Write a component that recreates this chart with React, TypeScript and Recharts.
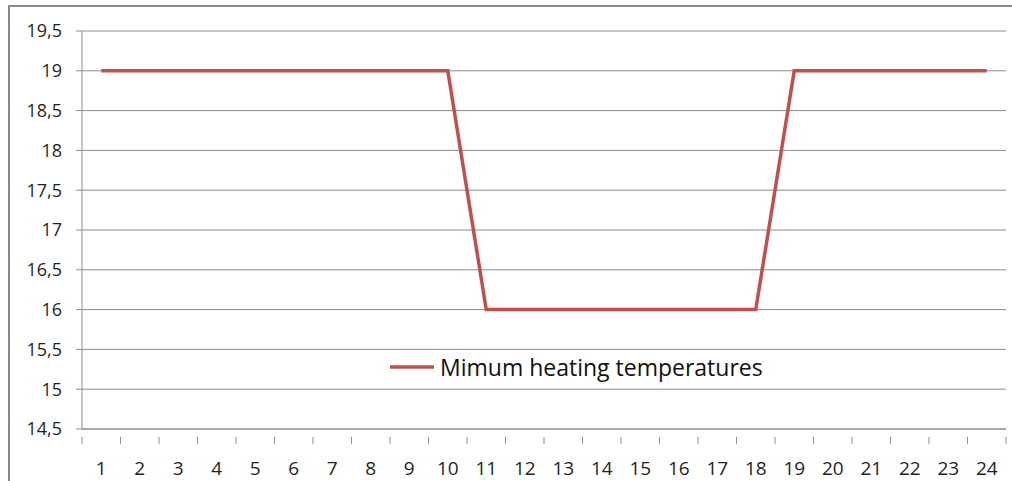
import React from "react";
import {
  LineChart, Line, XAxis, YAxis, CartesianGrid, Legend,
} from "recharts";

const hours = [
  "1", "2", "3", "4", "5", "6", "7", "8", "9", "10", "11", "12",
  "13", "14", "15", "16", "17", "18", "19", "20", "21", "22", "23", "24",
];
const minTemps = [
  19, 19, 19, 19, 19, 19, 19, 19, 19, 19, 16, 16,
  16, 16, 16, 16, 16, 16, 19, 19, 19, 19, 19, 19,
];
const yTicks = [14.5, 15, 15.5, 16, 16.5, 17, 17.5, 18, 18.5, 19, 19.5];

const W = 1012;
const H = 481;
const PLOT_LEFT = 82;
const PLOT_RIGHT = 1006;
const GRID = "#8c8c8c";
const TEXT = "#1f1f1f";
const FONT = "'Open Sans', sans-serif";

const data = hours.map((h, i) => ({ hour: h, temp: minTemps[i] }));
const halfBand = (PLOT_RIGHT - PLOT_LEFT) / hours.length / 2;

function HourTick(props: any) {
  const { x, y, payload, index } = props;
  const last = index === hours.length - 1;
  return (
    <g>
      <line x1={x - halfBand} x2={x - halfBand} y1={y} y2={y + 7} stroke={GRID} />
      {last && <line x1={x + halfBand} x2={x + halfBand} y1={y} y2={y + 7} stroke={GRID} />}
      <text x={x} y={y + 38} textAnchor="middle" fill={TEXT} fontSize={19} fontFamily={FONT}>
        {payload.value}
      </text>
    </g>
  );
}

function LegendBox() {
  return (
    <div style={{ position: "absolute", left: 390, top: 351, display: "flex", alignItems: "center" }}>
      <svg width={44} height={6} style={{ marginRight: 6 }}>
        <line x1={0} x2={44} y1={3} y2={3} stroke="#C0504D" strokeWidth={3.5} />
      </svg>
      <span style={{ fontFamily: FONT, fontSize: 23, color: "#111", whiteSpace: "nowrap" }}>
        Mimum heating temperatures
      </span>
    </div>
  );
}

export default function App() {
  return (
    <div style={{ position: "absolute", left: 0, top: 0, width: W, height: H, overflow: "hidden", background: "#fff" }}>
      <div
        style={{
          position: "absolute", left: 8, top: 5, width: W + 20, height: H + 20,
          borderLeft: "2px solid #898989", borderTop: "2px solid #898989",
        }}
      />
      <div style={{ position: "absolute", left: 0, top: 0 }}>
        <LineChart width={W} height={H} data={data} margin={{ top: 31, right: W - PLOT_RIGHT, bottom: 12, left: 0 }}>
          <CartesianGrid vertical={false} stroke={GRID} />
          <XAxis
            dataKey="hour"
            height={40}
            padding={{ left: halfBand, right: halfBand }}
            axisLine={{ stroke: GRID }}
            tickLine={false}
            tick={<HourTick />}
            interval={0}
          />
          <YAxis
            width={PLOT_LEFT}
            domain={[14.5, 19.5]}
            ticks={yTicks}
            interval={0}
            axisLine={{ stroke: GRID }}
            tickLine={{ stroke: GRID }}
            tickSize={6}
            tickMargin={14}
            tick={{ fill: TEXT, fontSize: 18, fontFamily: FONT }}
            tickFormatter={(v: number) => String(v).replace(".", ",")}
          />
          <Legend content={() => null} />
          <Line
            type="linear"
            dataKey="temp"
            name="Mimum heating temperatures"
            stroke="#C0504D"
            strokeWidth={3.5}
            dot={false}
            isAnimationActive={false}
          />
        </LineChart>
      </div>
      <LegendBox />
    </div>
  );
}
